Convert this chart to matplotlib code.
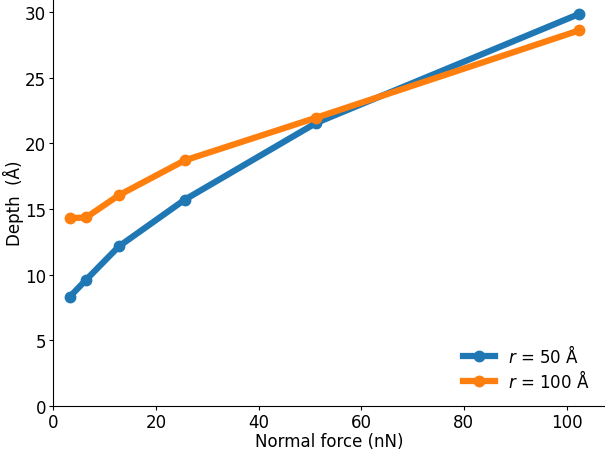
import matplotlib
matplotlib.use("Agg")
import matplotlib.pyplot as plt

# normal force (nN)
force = [3.2, 6.4, 12.8, 25.6, 51.2, 102.4]
# indentation depth (Angstrom)
depth_r50 = [8.3, 9.6, 12.15, 15.7, 21.55, 29.85]
depth_r100 = [14.3, 14.35, 16.05, 18.7, 21.95, 28.6]

plt.rcParams['font.size'] = 12

fig = plt.figure(figsize=(6.05, 4.52), dpi=100)
ax = fig.add_axes([0.088, 0.1, 0.912, 0.9])

ax.plot(force, depth_r50, 'o-', lw=4.5, ms=7.5, label=r'$r$ = 50 Å')
ax.plot(force, depth_r100, 'o-', lw=4.5, ms=7.5, label=r'$r$ = 100 Å')

ax.set_xlim(0, 107.5)
ax.set_ylim(0, 31)
ax.tick_params(length=3, pad=2)
ax.set_xlabel('Normal force (nN)', labelpad=1)
ax.set_ylabel('Depth  (Å)', labelpad=1)
ax.spines['top'].set_visible(False)
ax.spines['right'].set_visible(False)
ax.legend(loc='lower right', frameon=False, handlelength=1.9,
          labelspacing=0.15, borderaxespad=0.5)

fig.savefig('out.png', dpi=100)
